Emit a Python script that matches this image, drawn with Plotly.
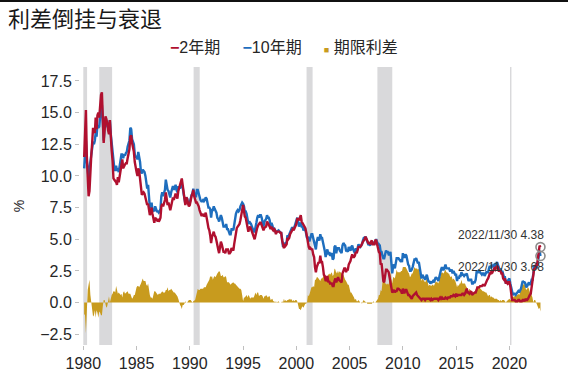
import pandas as pd
import plotly.graph_objects as go

# 2年期国债收益率（月度，%），1980-01 起
t2_1980s = [
    11.5, 13.4, 15.2, 11.6, 9.0, 8.4, 8.8, 10.6, 11.6, 12.6, 13.8, 13.5,
    13.4, 14.6, 13.7, 14.8, 15.0, 14.6, 15.6, 16.4, 16.6, 14.9, 12.6, 13.6,
    14.7, 14.5, 14.2, 13.6, 13.3, 14.4, 12.9, 12.0, 11.2, 9.8, 9.7, 9.6,
    9.5, 9.3, 9.9, 9.5, 10.0, 10.4, 11.0, 11.3, 10.6, 10.8, 10.9, 11.0,
    11.0, 11.4, 11.8, 12.1, 13.1, 13.2, 12.6, 12.3, 11.9, 11.1, 10.5, 10.3,
    10.0, 10.6, 10.4, 9.8, 8.8, 8.5, 8.6, 8.7, 8.6, 8.3, 8.1, 7.7,
    7.8, 7.4, 6.9, 7.1, 7.5, 7.0, 6.7, 6.3, 6.7, 6.6, 6.5, 6.6,
    6.4, 6.5, 6.7, 7.6, 7.8, 7.6, 7.8, 8.1, 8.7, 8.0, 7.7, 7.9,
    7.4, 7.3, 7.6, 7.9, 8.3, 8.1, 8.4, 8.6, 8.4, 8.2, 8.8, 9.1,
    9.2, 9.6, 9.8, 9.3, 8.8, 8.2, 7.7, 8.3, 8.2, 7.8, 7.6, 7.7,
]
t2_1990s = [
    8.2, 8.4, 8.6, 8.9, 8.4, 8.2, 7.9, 7.9, 7.8, 7.6, 7.3, 7.0,
    6.9, 6.9, 7.0, 6.8, 6.9, 7.1, 6.8, 6.3, 5.9, 5.7, 5.3, 4.7,
    5.2, 5.5, 5.6, 5.3, 5.2, 4.9, 4.4, 4.2, 3.9, 4.4, 4.8, 4.6,
    4.2, 4.0, 4.0, 3.9, 4.2, 4.2, 4.2, 3.9, 3.9, 4.0, 4.3, 4.2,
    4.1, 4.6, 5.2, 5.6, 5.9, 6.0, 6.1, 6.2, 6.5, 6.8, 7.3, 7.7,
    7.2, 6.8, 6.7, 6.4, 5.9, 5.6, 5.9, 6.0, 5.8, 5.6, 5.4, 5.2,
    5.0, 5.3, 5.7, 5.9, 6.1, 6.2, 6.3, 6.3, 6.1, 5.8, 5.7, 5.9,
    6.0, 6.0, 6.4, 6.3, 6.2, 6.0, 5.8, 6.0, 5.8, 5.7, 5.8, 5.7,
    5.4, 5.6, 5.6, 5.6, 5.6, 5.5, 5.5, 4.9, 4.4, 4.3, 4.6, 4.5,
    4.6, 5.1, 5.0, 5.1, 5.4, 5.5, 5.7, 5.8, 5.7, 5.9, 6.0, 6.2,
]
t2_2000s = [
    6.6, 6.6, 6.5, 6.7, 6.9, 6.4, 6.3, 6.1, 6.0, 5.9, 5.6, 5.1,
    4.6, 4.4, 4.2, 4.3, 4.2, 4.2, 3.8, 3.6, 2.8, 2.4, 2.8, 3.1,
    3.2, 3.1, 3.7, 3.2, 3.2, 2.8, 2.2, 2.1, 1.7, 1.8, 2.1, 1.6,
    1.7, 1.5, 1.5, 1.5, 1.3, 1.3, 1.7, 1.9, 1.6, 1.8, 2.0, 1.8,
    1.7, 1.6, 1.6, 2.3, 2.5, 2.7, 2.7, 2.4, 2.6, 2.6, 3.0, 3.1,
    3.3, 3.6, 3.8, 3.6, 3.6, 3.7, 4.0, 3.9, 4.2, 4.4, 4.4, 4.4,
    4.5, 4.7, 4.8, 4.9, 5.0, 5.2, 5.0, 4.8, 4.7, 4.7, 4.6, 4.8,
    4.9, 4.6, 4.6, 4.6, 4.9, 4.9, 4.6, 4.2, 4.0, 3.9, 3.0, 3.1,
    2.1, 1.7, 1.6, 2.3, 2.6, 2.6, 2.5, 2.4, 2.0, 1.6, 1.0, 0.8,
    0.9, 1.0, 0.8, 0.9, 0.9, 1.1, 1.1, 1.0, 0.9, 0.9, 0.7, 1.1,
]
t2_2010s = [
    0.8, 0.8, 1.0, 1.0, 0.8, 0.6, 0.6, 0.5, 0.4, 0.3, 0.5, 0.6,
    0.6, 0.7, 0.8, 0.6, 0.5, 0.5, 0.4, 0.2, 0.2, 0.3, 0.3, 0.3,
    0.2, 0.3, 0.3, 0.3, 0.3, 0.3, 0.2, 0.3, 0.2, 0.3, 0.3, 0.3,
    0.3, 0.3, 0.3, 0.2, 0.3, 0.4, 0.3, 0.4, 0.3, 0.3, 0.3, 0.4,
    0.3, 0.3, 0.4, 0.4, 0.4, 0.5, 0.5, 0.5, 0.6, 0.5, 0.5, 0.7,
    0.5, 0.6, 0.6, 0.6, 0.6, 0.6, 0.7, 0.7, 0.6, 0.7, 0.9, 1.1,
    0.8, 0.8, 0.7, 0.8, 0.9, 0.6, 0.7, 0.8, 0.8, 0.8, 1.1, 1.2,
    1.2, 1.2, 1.3, 1.3, 1.3, 1.4, 1.4, 1.3, 1.5, 1.6, 1.8, 1.9,
    2.1, 2.3, 2.3, 2.5, 2.4, 2.5, 2.7, 2.6, 2.8, 2.9, 2.8, 2.5,
    2.5, 2.5, 2.3, 2.3, 1.9, 1.8, 1.9, 1.5, 1.6, 1.5, 1.6, 1.6,
]
t2_2020s = [
    1.3, 0.9, 0.2, 0.2, 0.2, 0.2, 0.1, 0.1, 0.1, 0.2, 0.2, 0.1,
    0.1, 0.1, 0.2, 0.2, 0.1, 0.3, 0.2, 0.2, 0.3, 0.5, 0.6, 0.7,
    1.2, 1.4, 2.3, 2.7, 2.6, 3.0, 2.9, 3.5, 4.3, 4.5, 4.38,
]

# 10年期国债收益率（月度，%），1980-01 起
t10_1980s = [
    10.6, 12.4, 12.8, 11.2, 10.0, 9.8, 10.6, 11.2, 11.6, 12.3, 12.7, 12.5,
    12.8, 13.4, 13.1, 14.0, 13.8, 13.9, 14.8, 15.4, 15.6, 14.6, 12.8, 13.8,
    14.6, 14.1, 13.9, 13.8, 13.8, 14.4, 13.3, 12.6, 11.9, 10.7, 10.6, 10.4,
    10.8, 10.4, 10.6, 10.3, 10.7, 11.0, 11.7, 11.7, 11.4, 11.7, 11.6, 11.8,
    11.9, 12.3, 12.5, 12.8, 13.8, 13.7, 12.9, 12.7, 12.5, 11.7, 11.5, 11.5,
    11.3, 11.9, 11.6, 11.1, 10.3, 10.2, 10.5, 10.4, 10.3, 10.0, 9.5, 9.0,
    9.3, 8.3, 7.5, 7.5, 7.9, 7.3, 7.3, 7.2, 7.6, 7.4, 7.2, 7.2,
    7.1, 7.2, 7.4, 8.4, 8.7, 8.4, 8.6, 8.9, 9.7, 9.0, 8.9, 8.8,
    8.4, 8.3, 8.7, 8.9, 9.2, 8.9, 9.2, 9.3, 8.9, 8.7, 9.1, 9.1,
    9.0, 9.3, 9.3, 9.1, 8.6, 8.1, 7.8, 8.3, 8.2, 7.9, 7.8, 7.9,
]
t10_1990s = [
    8.4, 8.5, 8.6, 9.0, 8.6, 8.4, 8.4, 8.9, 8.9, 8.6, 8.3, 8.1,
    8.0, 8.0, 8.1, 8.0, 8.1, 8.3, 8.2, 7.8, 7.5, 7.5, 7.4, 6.7,
    7.3, 7.3, 7.6, 7.4, 7.2, 7.1, 6.7, 6.6, 6.4, 6.8, 6.9, 6.7,
    6.4, 6.0, 6.0, 6.0, 6.2, 5.8, 5.8, 5.5, 5.4, 5.4, 5.8, 5.8,
    5.7, 6.1, 6.7, 7.0, 7.2, 7.3, 7.2, 7.3, 7.6, 7.8, 7.9, 7.8,
    7.6, 7.2, 7.2, 7.0, 6.3, 6.2, 6.4, 6.3, 6.2, 6.0, 5.8, 5.6,
    5.6, 6.1, 6.3, 6.7, 6.9, 6.7, 6.9, 6.9, 6.7, 6.3, 6.0, 6.4,
    6.5, 6.6, 6.9, 6.7, 6.7, 6.5, 6.0, 6.3, 6.1, 5.8, 5.9, 5.7,
    5.5, 5.6, 5.7, 5.7, 5.6, 5.5, 5.5, 5.0, 4.4, 4.6, 4.7, 4.7,
    4.7, 5.3, 5.2, 5.4, 5.6, 5.8, 5.9, 5.9, 5.9, 6.0, 6.2, 6.4,
]
t10_2000s = [
    6.7, 6.4, 6.0, 6.2, 6.3, 6.0, 6.0, 5.7, 5.8, 5.8, 5.5, 5.1,
    5.2, 4.9, 4.9, 5.3, 5.4, 5.4, 5.1, 4.8, 4.6, 4.2, 4.8, 5.1,
    5.1, 4.9, 5.4, 5.1, 5.1, 4.8, 4.5, 4.1, 3.6, 3.9, 4.2, 3.8,
    4.0, 3.7, 3.8, 3.9, 3.4, 3.5, 4.4, 4.5, 3.9, 4.3, 4.3, 4.3,
    4.1, 4.0, 3.9, 4.5, 4.7, 4.6, 4.5, 4.1, 4.1, 4.0, 4.4, 4.2,
    4.1, 4.4, 4.5, 4.2, 4.0, 3.9, 4.3, 4.0, 4.3, 4.6, 4.5, 4.4,
    4.5, 4.6, 4.9, 5.1, 5.1, 5.2, 5.0, 4.7, 4.6, 4.6, 4.5, 4.7,
    4.8, 4.6, 4.7, 4.6, 4.9, 5.0, 4.8, 4.5, 4.6, 4.5, 4.0, 4.0,
    3.7, 3.5, 3.5, 3.8, 4.1, 4.0, 4.0, 3.8, 3.8, 4.0, 2.9, 2.3,
    2.9, 3.0, 2.7, 3.2, 3.5, 3.5, 3.5, 3.4, 3.3, 3.4, 3.2, 3.9,
]
t10_2010s = [
    3.6, 3.6, 3.8, 3.7, 3.3, 3.0, 2.9, 2.5, 2.5, 2.6, 2.8, 3.3,
    3.4, 3.4, 3.5, 3.3, 3.1, 3.2, 2.8, 2.2, 1.9, 2.2, 2.1, 1.9,
    1.8, 2.0, 2.2, 1.9, 1.6, 1.7, 1.5, 1.6, 1.6, 1.7, 1.6, 1.8,
    2.0, 1.9, 1.9, 1.7, 2.1, 2.5, 2.6, 2.8, 2.6, 2.6, 2.8, 3.0,
    2.7, 2.7, 2.7, 2.7, 2.5, 2.5, 2.6, 2.3, 2.5, 2.3, 2.2, 2.2,
    1.7, 2.0, 1.9, 2.1, 2.1, 2.4, 2.2, 2.2, 2.1, 2.2, 2.2, 2.3,
    1.9, 1.7, 1.8, 1.8, 1.8, 1.5, 1.5, 1.6, 1.6, 1.8, 2.4, 2.4,
    2.5, 2.4, 2.4, 2.3, 2.2, 2.3, 2.3, 2.1, 2.3, 2.4, 2.4, 2.4,
    2.7, 2.9, 2.7, 3.0, 2.8, 2.9, 3.0, 2.9, 3.1, 3.2, 3.0, 2.7,
    2.6, 2.7, 2.4, 2.5, 2.1, 2.0, 2.0, 1.5, 1.7, 1.7, 1.8, 1.9,
]
t10_2020s = [
    1.5, 1.1, 0.7, 0.6, 0.7, 0.7, 0.6, 0.7, 0.7, 0.9, 0.8, 0.9,
    1.1, 1.4, 1.7, 1.6, 1.6, 1.5, 1.2, 1.3, 1.5, 1.6, 1.4, 1.5,
    1.8, 1.8, 2.3, 2.9, 2.8, 3.0, 2.7, 3.2, 3.8, 4.1, 3.68,
]

# 经济衰退区间（阴影）
recession_start = ["1980-01-01", "1981-07-01", "1990-05-10", "2000-12-15", "2007-08-10", "2020-01-20"]
recession_end = ["1980-05-10", "1982-09-15", "1990-12-05", "2001-07-10", "2009-01-01", "2020-03-10"]

series_names = ["2年期", "10年期", "期限利差"]
colors = ["#B0102F", "#1E6EBE", "#C89B1E"]

t2 = t2_1980s + t2_1990s + t2_2000s + t2_2010s + t2_2020s
t10 = t10_1980s + t10_1990s + t10_2000s + t10_2010s + t10_2020s
dates = pd.date_range("1980-01-31", periods=len(t2), freq="ME")
spread = [round(b - a, 2) for a, b in zip(t2, t10)]

fig = go.Figure()

fig.add_trace(go.Scatter(
    x=dates, y=spread, mode="lines", name=series_names[2],
    line=dict(width=0, color=colors[2]), fill="tozeroy",
    fillcolor=colors[2], hoverinfo="skip",
))
fig.add_trace(go.Scatter(
    x=dates, y=t10, mode="lines", name=series_names[1],
    line=dict(width=2.4, color=colors[1]),
))
fig.add_trace(go.Scatter(
    x=dates, y=t2, mode="lines", name=series_names[0],
    line=dict(width=2.4, color=colors[0]),
))

last_date = dates[-1]
end_vals = [t2[-1], t10[-1]]
fig.add_trace(go.Scatter(
    x=[last_date, last_date], y=end_vals, mode="markers",
    marker=dict(symbol="circle-open", size=9, color="#8C8C8C", line=dict(width=1.6)),
    hoverinfo="skip",
))

for s, e in zip(recession_start, recession_end):
    fig.add_shape(type="rect", xref="x", yref="paper", x0=s, x1=e, y0=0, y1=1,
                  fillcolor="#D9D9DB", line=dict(width=0), layer="below")

# plot area: l=80, t=67, w=468, h=278
W, H, L, T = 468, 278, 80, 67
fig.add_shape(type="line", xref="paper", yref="paper",
              x0=-L / W, x1=(568 - L) / W, y0=1 + (T - 1) / H, y1=1 + (T - 1) / H,
              line=dict(color="#111111", width=2))

label_date = last_date.strftime("%Y/%m/%d")
for v, dy in zip(end_vals, [12, -11]):
    fig.add_annotation(x=last_date, y=v, xref="x", yref="y",
                       text=f"{label_date} {v:.2f}", showarrow=False,
                       xanchor="right", xshift=6, yshift=dy,
                       font=dict(size=12, color="#333333"))

gap = "&nbsp;" * 5
legend_text = (
    f"<span style='color:{colors[0]}'><b>−</b></span>{series_names[0]}{gap}"
    f"<span style='color:{colors[1]}'><b>−</b></span>{series_names[1]}{gap}"
    f"<span style='color:{colors[2]};font-size:9px'>■</span> {series_names[2]}"
)
fig.add_annotation(x=(284 - L) / W, y=1 + (T - 47) / H, xref="paper", yref="paper",
                   text=legend_text, showarrow=False, xanchor="center", yanchor="middle",
                   font=dict(size=16, color="#262626"))

fig.update_layout(
    width=568, height=374,
    margin=dict(l=L, r=568 - L - W, t=T, b=374 - T - H, autoexpand=False),
    paper_bgcolor="white", plot_bgcolor="white",
    showlegend=False,
    font=dict(family="Liberation Sans, Arial, Noto Sans CJK SC", color="#262626"),
    title=dict(text="利差倒挂与衰退", x=8 / 568, xanchor="left", xref="container",
               y=1 - 19 / 374, yanchor="middle", yref="container",
               font=dict(size=22, family="Noto Sans CJK SC", color="#1a1a1a")),
)

fig.update_xaxes(
    type="date", range=["1979-09-10", "2023-08-15"], automargin=False,
    tick0="1980-01-01", dtick="M60", tickformat="%Y",
    ticks="outside", ticklen=4, tickcolor="#BFBFBF",
    showgrid=False, zeroline=False, showline=False,
    tickfont=dict(size=16, color="#262626"),
)
fig.update_yaxes(
    range=[-3.35, 18.6], tick0=0, dtick=2.5, tickformat=".1f", automargin=False,
    ticks="outside", ticklen=4, tickcolor="#BFBFBF",
    showgrid=False, zeroline=False, showline=False,
    tickfont=dict(size=16, color="#262626"),
    title=dict(text="%", standoff=12, font=dict(size=14, color="#262626")),
)

fig.write_html("out.html")
